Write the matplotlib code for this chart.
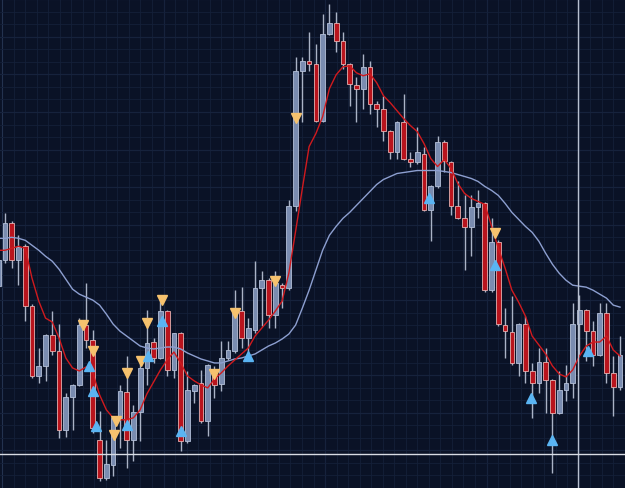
import numpy as np
import matplotlib
matplotlib.use("Agg")
import matplotlib.pyplot as plt

# candle index (-1 = partially visible first candle)
idx = list(range(-1, 92))

opens = [201, 227, 264, 227, 241, 181, 111, 121, 152, 136, 57, 90, 102, 162, 147, 47, 9, 22, 69, 95,
         47, 75, 119, 145, 129, 176, 117, 154, 46, 96, 104, 66, 112, 103, 129, 136, 176, 149, 157, 199,
         207, 172, 202, 199, 281, 417, 427, 424, 367, 454, 465, 447, 424, 403, 399, 421, 384, 379, 357, 336,
         366, 329, 326, 334, 277, 301, 346, 326, 281, 269, 260, 280, 284, 197, 245, 162, 155, 124, 163, 116,
         104, 125, 107, 74, 97, 104, 163, 177, 156, 132, 174, 114, 100]
highs = [229, 274, 266, 252, 243, 183, 139, 153, 176, 163, 94, 103, 169, 204, 157, 76, 47, 71, 102, 131,
         82, 126, 177, 149, 189, 177, 154, 155, 116, 103, 117, 123, 121, 146, 146, 197, 200, 169, 226, 216,
         209, 216, 204, 287, 431, 431, 456, 444, 474, 484, 476, 456, 425, 411, 434, 427, 387, 392, 358, 367,
         394, 336, 361, 341, 302, 352, 348, 327, 306, 292, 292, 297, 285, 269, 247, 179, 191, 164, 171, 124,
         139, 139, 108, 116, 122, 184, 192, 178, 166, 184, 184, 131, 151]
lows = [199, 224, 219, 202, 166, 109, 104, 106, 132, 49, 50, 57, 101, 139, 54, 6, 7, 11, 39, 19,
        26, 46, 102, 124, 128, 111, 109, 36, 44, 84, 64, 51, 89, 96, 127, 134, 139, 132, 154, 161,
        159, 159, 179, 197, 276, 366, 417, 366, 366, 453, 436, 419, 382, 366, 379, 374, 361, 347, 329, 329,
        328, 321, 324, 276, 246, 299, 316, 272, 268, 217, 231, 269, 195, 195, 161, 129, 122, 111, 104, 69,
        94, 74, 14, 73, 86, 89, 132, 126, 121, 131, 104, 71, 97]
closes = [227, 264, 227, 240, 181, 111, 121, 152, 136, 57, 90, 102, 162, 147, 59, 9, 23, 69, 96, 47,
          75, 119, 144, 129, 176, 117, 154, 46, 97, 102, 66, 122, 102, 129, 137, 176, 149, 159, 199, 207,
          172, 204, 199, 281, 417, 427, 424, 367, 454, 465, 447, 424, 404, 399, 421, 384, 379, 357, 336, 366,
          329, 326, 336, 277, 301, 346, 327, 281, 269, 260, 280, 284, 197, 245, 163, 156, 124, 163, 116, 104,
          125, 107, 74, 97, 104, 163, 177, 156, 132, 174, 114, 100, 132]

# fast moving average (red) and slow moving average (slate blue)
ma_fast = [237, 237, 239, 241, 239, 209, 186, 169, 165, 149, 129, 119, 116, 120, 114, 92, 77, 69, 67, 67,
           69, 77, 93, 105, 117, 127, 135, 124, 111, 106, 102, 99, 108, 114, 121, 127, 133, 139, 151, 159,
           167, 176, 186, 214, 256, 299, 341, 354, 371, 399, 413, 421, 422, 415, 412, 414, 405, 392, 385, 377,
           369, 362, 356, 344, 329, 321, 328, 319, 304, 294, 289, 286, 283, 261, 239, 219, 197, 185, 171, 151,
           142, 133, 121, 113, 110, 117, 131, 141, 145, 145, 151, 137, 131]
ma_slow = [249, 249, 250, 249, 247, 242, 237, 231, 226, 218, 208, 198, 193, 190, 187, 182, 173, 163, 156, 151,
           146, 141, 139, 138, 139, 140, 140, 138, 134, 131, 128, 126, 124, 124, 126, 128, 129, 131, 133, 137,
           141, 144, 148, 153, 162, 179, 197, 217, 237, 252, 261, 269, 275, 282, 289, 296, 303, 308, 311, 314,
           315, 316, 317, 317, 317, 317, 316, 315, 313, 311, 309, 306, 301, 297, 292, 284, 275, 268, 261, 255,
           246, 234, 223, 214, 207, 202, 201, 200, 197, 193, 189, 182, 180]

# signal markers: (candle position, price)
sell_pos = [11.6, 13, 16.5, 16.2, 18, 20.1, 21, 23.3, 31, 34, 40, 43, 72.5]
sell_val = [162, 136, 66, 52, 114, 126, 164, 187, 113, 174, 206, 370, 254]
buy_pos = [12.5, 13, 13.5, 18, 21.2, 23.3, 26, 36, 62.7, 72.5, 77.8, 81, 86.2]
buy_val = [121, 96, 61, 62, 131, 166, 56, 131, 289, 222, 89, 47, 136]

cross_x = 84.8
cross_y = 32.3

BG = "#0a1226"
UP = "#7a8cb0"
UP_EDGE = "#b4c0d8"
DN = "#b8141d"
DN_EDGE = "#e6b0b0"
WICK = "#aab3c6"

fig = plt.figure(figsize=(6.25, 4.89), dpi=100)
fig.patch.set_facecolor(BG)
ax = fig.add_axes([0, 0, 1, 1])
ax.set_facecolor(BG)

ax.set_xlim(-0.736, 91.31)
ax.set_ylim(0, 489)

# grid
ax.set_xticks(np.arange(-0.44, 92, 23.9))
ax.set_xticks(np.arange(-0.44, 92, 1.707), minor=True)
ax.set_yticks(np.arange(36.3, 489, 37.7))
ax.set_yticks(np.arange(-1.4, 489, 12.57), minor=True)
ax.grid(True, which="minor", color="#142039", lw=0.6)
ax.grid(True, which="major", color="#23324f", lw=0.8)
ax.tick_params(which="both", length=0, labelbottom=False, labelleft=False)
for s in ax.spines.values():
    s.set_visible(False)
ax.set_axisbelow(True)

x = np.array(idx, dtype=float)
o = np.array(opens, float)
c = np.array(closes, float)
h = np.array(highs, float)
l = np.array(lows, float)
up = c >= o

ax.vlines(x, l, h, color=WICK, lw=1.0, zorder=2)
ax.bar(x[up], c[up] - o[up], bottom=o[up], width=0.7, color=UP, edgecolor=UP_EDGE, lw=0.6, zorder=3)
ax.bar(x[~up], c[~up] - o[~up], bottom=o[~up], width=0.7, color=DN, edgecolor=DN_EDGE, lw=0.6, zorder=3)

ax.plot(x, ma_slow, color="#8d9fd0", lw=1.0, zorder=4)
ax.plot(x, ma_fast, color="#d01a1e", lw=1.0, zorder=4)

ax.plot(sell_pos, sell_val, linestyle="none", marker="v", ms=7, color="#f6c26e",
        markeredgecolor="#f6c26e", zorder=5)
ax.plot(buy_pos, buy_val, linestyle="none", marker="^", ms=7, color="#5ab4f2",
        markeredgecolor="#5ab4f2", zorder=5)

ax.axvline(cross_x, color="#b8c0d0", lw=1.0, zorder=6)
ax.axhline(cross_y, color="#d8dce4", lw=1.0, zorder=6)

fig.savefig("out.png", dpi=100, facecolor=BG)
